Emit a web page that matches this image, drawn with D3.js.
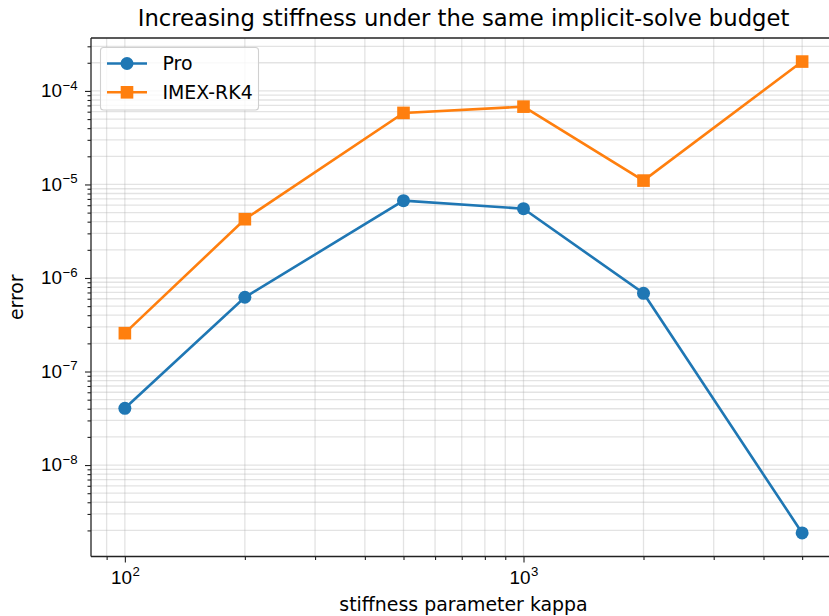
<!DOCTYPE html>
<html>
<head>
<meta charset="utf-8">
<script src="https://cdn.jsdelivr.net/npm/d3@7"></script>
<style>
  body { margin: 0; background: #fff; }
  svg { font-family: "DejaVu Sans", sans-serif; display: block; }
</style>
</head>
<body>
<svg id="chart" width="829" height="616"></svg>
<script>
// values
const kappa = [100, 200, 500, 1000, 2000, 5000];
const proErr = [4.04e-8, 6.22e-7, 6.71e-6, 5.51e-6, 6.86e-7, 1.88e-9];
const imexErr = [2.57e-7, 4.25e-6, 5.82e-5, 6.79e-5, 1.10e-5, 2.06e-4];
const seriesNames = ["Pro", "IMEX-RK4"];
const xMajor = [100, 1000];
const yMajor = [1e-8, 1e-7, 1e-6, 1e-5, 1e-4];

const margin = {top: 38, left: 91},
    width = 745,
    height = 518.5,
    fs = 18.9;

const svg = d3.select("#chart");
const g = svg.append("g")
    .attr("transform", "translate(" + margin.left + "," + margin.top + ")");

// matplotlib-like 5% padding in log space
function logPad(vals) {
  let lo = Math.log10(d3.min(vals)), hi = Math.log10(d3.max(vals));
  let p = (hi - lo) * 0.05;
  return [Math.pow(10, lo - p), Math.pow(10, hi + p)];
}

let x = d3.scaleLog().domain(logPad(kappa)).range([0, width]);
let y = d3.scaleLog().domain(logPad(proErr.concat(imexErr))).range([height, 0]);

// minor tick positions
let xMinor = [];
[10, 100, 1000].forEach(function(d) {
  for (let k = 2; k <= 9; k++) {
    let v = d * k;
    if (v >= x.domain()[0] && v <= x.domain()[1]) xMinor.push(v);
  }
});
let yMinor = [];
[1e-9, 1e-8, 1e-7, 1e-6, 1e-5, 1e-4].forEach(function(d) {
  for (let k = 2; k <= 9; k++) {
    let v = d * k;
    if (v >= y.domain()[0] && v <= y.domain()[1]) yMinor.push(v);
  }
});

// grid
let grid = g.append("g").attr("stroke", "#b0b0b0").attr("stroke-opacity", 0.35).attr("stroke-width", 1.3);
xMinor.concat(xMajor).forEach(function(v) {
  grid.append("line").attr("x1", x(v)).attr("x2", x(v)).attr("y1", 0).attr("y2", height);
});
yMinor.concat(yMajor).forEach(function(v) {
  grid.append("line").attr("x1", 0).attr("x2", width).attr("y1", y(v)).attr("y2", y(v));
});

// axes
g.append("g").attr("class", "xmaj").attr("transform", "translate(0," + height + ")")
    .call(d3.axisBottom(x).tickValues(xMajor).tickFormat("").tickSize(6));
g.append("g").attr("transform", "translate(0," + height + ")")
    .call(d3.axisBottom(x).tickValues(xMinor).tickFormat("").tickSize(3.5));
g.append("g").attr("class", "ymaj")
    .call(d3.axisLeft(y).tickValues(yMajor).tickFormat("").tickSize(6));
g.append("g")
    .call(d3.axisLeft(y).tickValues(yMinor).tickFormat("").tickSize(3.5));

g.selectAll(".domain").remove();
g.selectAll(".tick line").attr("stroke", "#222").attr("stroke-width", 1.1);

// power-of-ten labels with real superscripts
function powLabel(sel, v) {
  let e = Math.round(Math.log10(v));
  sel.append("tspan").text("10");
  sel.append("tspan").attr("font-size", fs * 0.7).attr("dx", 0.5).attr("dy", -7.7)
    .text((e < 0 ? "\u2212" : "") + Math.abs(e));
}
g.select(".xmaj").selectAll(".tick").each(function(v) {
  let t = d3.select(this).append("text").attr("y", 27.5).attr("text-anchor", "middle")
      .attr("font-size", fs).attr("fill", "#000");
  powLabel(t, v);
});
g.select(".ymaj").selectAll(".tick").each(function(v) {
  let t = d3.select(this).append("text").attr("x", -13.5).attr("y", 5.8).attr("text-anchor", "end")
      .attr("font-size", fs).attr("fill", "#000");
  powLabel(t, v);
});

// spines
[[0, 0, 0, height], [0, width, height, height], [0, width, 0, 0], [width, width, 0, height]].forEach(function(s) {
  g.append("line").attr("x1", s[0]).attr("x2", s[1]).attr("y1", s[2]).attr("y2", s[3])
    .attr("stroke", "#222").attr("stroke-width", 1.3);
});

// lines
const colors = ["#1f77b4", "#ff7f0e"];
let line = d3.line()
    .x(function(d, i) { return x(kappa[i]); })
    .y(function(d) { return y(d); });

[proErr, imexErr].forEach(function(s, si) {
  g.append("path").datum(s)
    .attr("d", line)
    .attr("fill", "none")
    .attr("stroke", colors[si])
    .attr("stroke-width", 2.6);
});
g.selectAll(".pro").data(proErr).enter().append("circle")
    .attr("cx", function(d, i) { return x(kappa[i]); })
    .attr("cy", function(d) { return y(d); })
    .attr("r", 6.5)
    .attr("fill", colors[0]);
g.selectAll(".imex").data(imexErr).enter().append("rect")
    .attr("x", function(d, i) { return x(kappa[i]) - 6.3; })
    .attr("y", function(d) { return y(d) - 6.3; })
    .attr("width", 12.6).attr("height", 12.6)
    .attr("fill", colors[1]);

// legend
let lg = svg.append("g");
lg.append("rect").attr("x", 100.5).attr("y", 47.5).attr("width", 158).attr("height", 62.5)
    .attr("rx", 3).attr("fill", "#fff").attr("fill-opacity", 0.8)
    .attr("stroke", "#d0d0d0").attr("stroke-width", 1.1);
seriesNames.forEach(function(name, i) {
  let cy = 63.5 + i * 28.8;
  lg.append("line").attr("x1", 107).attr("x2", 147).attr("y1", cy).attr("y2", cy)
    .attr("stroke", colors[i]).attr("stroke-width", 2.6);
  if (i === 0) {
    lg.append("circle").attr("cx", 127).attr("cy", cy).attr("r", 6.5).attr("fill", colors[i]);
  } else {
    lg.append("rect").attr("x", 120.7).attr("y", cy - 6.3).attr("width", 12.6).attr("height", 12.6).attr("fill", colors[i]);
  }
  lg.append("text").attr("x", 162.5).attr("y", cy + 6.5).attr("font-size", fs).text(name);
});

// title and labels
svg.append("text").attr("x", margin.left + width / 2).attr("y", 26)
    .attr("text-anchor", "middle").attr("font-size", 22.7)
    .text("Increasing stiffness under the same implicit-solve budget");
svg.append("text").attr("x", margin.left + width / 2).attr("y", 611)
    .attr("text-anchor", "middle").attr("font-size", fs)
    .text("stiffness parameter kappa");
svg.append("text").attr("transform", "translate(23," + (margin.top + height / 2) + ") rotate(-90)")
    .attr("text-anchor", "middle").attr("font-size", fs)
    .text("error");
</script>
</body>
</html>
